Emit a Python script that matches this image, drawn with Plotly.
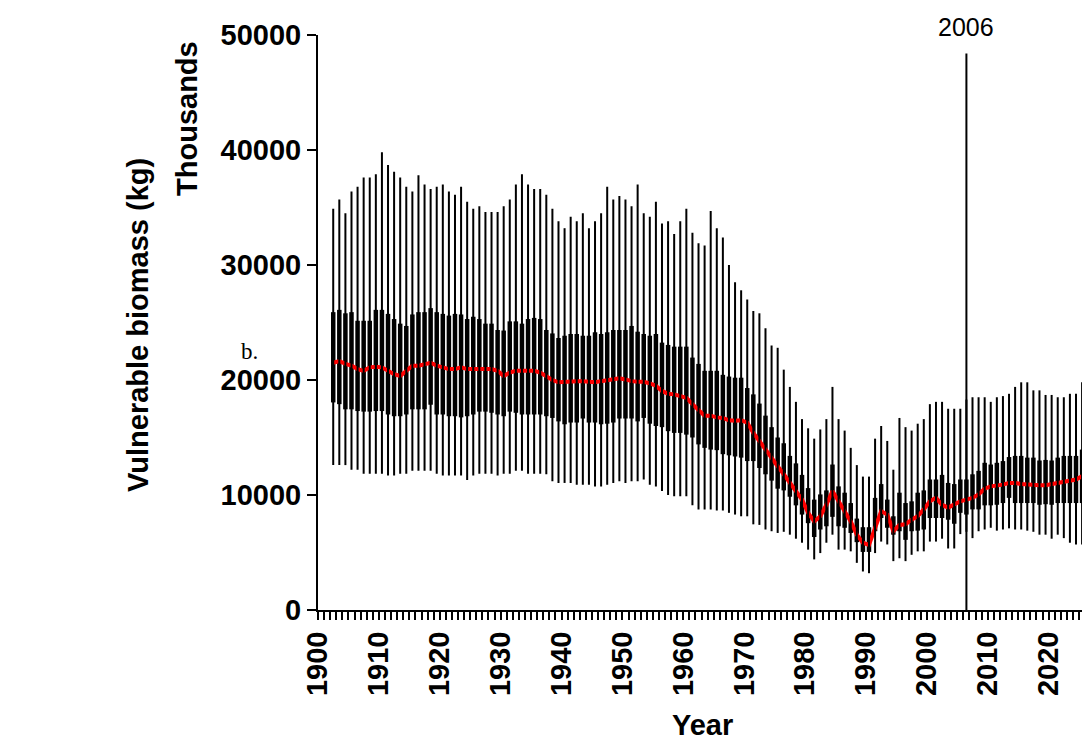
import plotly.graph_objects as go

# Yearly summaries of vulnerable biomass (thousands of kg)
years = list(range(1902, 2027))

high = [34900, 35700, 34500, 36400, 36800, 37600, 37600, 37900,
        39800, 38700, 38100, 37600, 36800, 36400, 37800, 37000, 36600, 36800,
        37000, 36400, 36100, 36800, 35500, 34900, 35100, 34600, 34600, 34600,
        35100, 35700, 37000, 37900, 37000, 36600, 36600, 36100, 34900, 33800,
        33200, 34200, 33800, 34500, 33200, 33800, 34500, 36800, 35700, 36000,
        35700, 35100, 37000, 34500, 34200, 35500, 33600, 33800, 32700, 33800,
        34900, 32800, 31900, 31700, 34700, 33200, 32400, 30000, 28500, 27800,
        27000, 26000, 25800, 24500, 23000, 22800, 20900, 19400, 18100, 16600,
        15800, 14900, 15700, 16600, 19400, 16600, 15600, 14100, 12600, 11600,
        11600, 14900, 16000, 14700, 12200, 16700, 15900, 15600, 16200, 16600,
        17900, 18100, 18100, 17500, 17500, 17500, 18300, 18500, 18500, 18500,
        18100, 18500, 18600, 18800, 19400, 19800, 19800, 19100, 19100, 18700,
        18700, 18500, 18500, 18800, 18800, 19800, 20000]

q3 = [25900, 26100, 25800, 25900, 25150, 25150, 25150, 26100,
      26100, 25750, 25300, 24900, 24700, 25700, 25900, 25900, 26250, 25900,
      25750, 25600, 25750, 25700, 25300, 25500, 25300, 24900, 24900, 24350,
      24300, 25100, 25100, 24900, 25300, 25400, 25300, 24350, 24050, 23650,
      23850, 24000, 24000, 23850, 23850, 24150, 24000, 24150, 24350, 24350,
      24350, 24700, 24200, 24000, 23850, 24000, 23250, 23050, 22900, 22900,
      22900, 21950, 21400, 20800, 20800, 20800, 20450, 20300, 20200, 20200,
      19300, 18750, 17950, 16900, 15900, 15000, 14500, 13400, 12750, 11750,
      10600, 9600, 10050, 10400, 12650, 10750, 10200, 9300, 7950, 7200,
      7200, 9750, 10950, 9600, 8150, 10200, 9300, 9450, 10200, 10400,
      11350, 11350, 11750, 11050, 10950, 11350, 11350, 11800, 12100, 12800,
      12650, 12800, 12950, 13300, 13400, 13400, 13250, 13250, 13000, 13050,
      13000, 13250, 13400, 13400, 13400, 13950, 14000]

median = [21500, 21650, 21400, 21250, 20950, 20800, 21100, 21150,
          21100, 20800, 20500, 20350, 20800, 21250, 21250, 21400, 21500, 21250,
          21100, 20950, 20950, 21100, 20950, 20950, 20950, 20950, 20950, 20800,
          20350, 20650, 20800, 20800, 20800, 20800, 20650, 20300, 20000, 19800,
          19850, 19900, 19900, 19900, 19850, 19800, 19900, 20000, 20100, 20150,
          20050, 19900, 19850, 19850, 19700, 19500, 19050, 18800, 18750, 18600,
          18450, 17900, 17450, 16900, 16900, 16750, 16700, 16500, 16450, 16500,
          16300, 15400, 14700, 13950, 13100, 12500, 11800, 11050, 10350, 9600,
          8450, 7700, 8150, 9150, 10350, 9450, 8450, 7700, 6550, 5850,
          5650, 7200, 8600, 8300, 6850, 7400, 7450, 7850, 8150, 8750,
          9450, 9750, 9150, 8900, 9150, 9450, 9600, 9750, 10050, 10550,
          10750, 10800, 10900, 11050, 11050, 10950, 10900, 10850, 10850, 10850,
          10950, 11050, 11150, 11200, 11350, 11650, 11750]

q1 = [18050, 17900, 17450, 17450, 17300, 17250, 17250, 17300,
      17300, 17000, 16850, 16850, 17000, 17450, 17450, 17450, 17850, 17000,
      17000, 16850, 16850, 16750, 16850, 17000, 17250, 17250, 17150, 17000,
      16850, 17250, 17150, 17000, 17000, 17000, 17000, 16850, 16700, 16400,
      16150, 16300, 16300, 16650, 16300, 16300, 16150, 16200, 16300, 16650,
      16650, 16650, 16400, 16700, 16200, 16000, 15900, 15550, 15400, 15400,
      15250, 15000, 14400, 14100, 13950, 13900, 13550, 13450, 13350, 13250,
      12950, 12950, 12350, 11800, 11250, 10550, 10400, 9850, 9100, 8300,
      7550, 6350, 7000, 7280, 8100, 7280, 7150, 6700, 5900, 5050,
      5050, 6850, 8000, 7150, 6550, 6850, 6100, 6850, 6900, 7000,
      8000, 8000, 8000, 7850, 7500, 8450, 8300, 8750, 8750, 9100,
      9100, 9150, 9300, 9750, 9300, 9300, 9300, 9300, 9150, 9200,
      9150, 9300, 9300, 9300, 9300, 9300, 9300]

low = [12600, 12600, 12600, 12200, 12200, 11850, 11850, 11850,
       11850, 11700, 11700, 11850, 11850, 12100, 12100, 12100, 12100, 11850,
       11700, 11700, 11700, 11700, 11300, 11700, 11850, 11850, 11850, 11700,
       11850, 11850, 12100, 12100, 11850, 11850, 11850, 11800, 11200, 11050,
       11050, 11050, 10900, 10900, 10900, 10750, 10750, 10900, 11050, 11200,
       11050, 11200, 11200, 11350, 10900, 10750, 10350, 10000, 9900, 9900,
       9900, 9100, 8750, 8750, 8750, 8650, 8650, 8450, 8300, 8150,
       8150, 7450, 7400, 7000, 6850, 6700, 6800, 6550, 6200, 5850,
       5250, 4400, 4950, 5850, 6550, 5250, 5250, 5100, 4100, 3350,
       3200, 4950, 5950, 5700, 4250, 4500, 4250, 4800, 5100, 5100,
       5950, 5950, 6200, 5350, 5350, 6600, 6800, 6250, 6850, 7000,
       7150, 6900, 7000, 7100, 7000, 7000, 6900, 6800, 6550, 6550,
       6200, 6550, 6250, 5850, 5700, 5700, 5700]

x_tick_years = list(range(1900, 2021, 10))
y_tick_values = list(range(0, 50001, 10000))
marker_year = 2006
marker_top = 48400


def vertical_segments(bottoms, tops):
    # one trace, segments separated by None
    xs, ys = [], []
    for yr, lo, hi in zip(years, bottoms, tops):
        xs += [yr, yr, None]
        ys += [lo, hi, None]
    return xs, ys


bold = dict(family="Liberation Sans, Arial", size=29, color="black", weight="bold")

fig = go.Figure()

bx, by = vertical_segments(q1, q3)
fig.add_trace(go.Scatter(x=bx, y=by, mode="lines",
                         line=dict(color="black", width=4.5), hoverinfo="skip"))

fig.add_trace(go.Scatter(x=years, y=median, mode="lines",
                         line=dict(color="#ff0000", width=4), name="median"))

wx, wy = vertical_segments(low, high)
fig.add_trace(go.Scatter(x=wx, y=wy, mode="lines",
                         line=dict(color="black", width=2), hoverinfo="skip"))

# 2006 reference line
fig.add_shape(type="line", xref="x", yref="y",
              x0=marker_year, x1=marker_year, y0=0, y1=marker_top,
              line=dict(color="black", width=2))
fig.add_annotation(x=marker_year, y=1.0139, xref="x", yref="paper",
                   xanchor="center", yanchor="middle",
                   text=str(marker_year), showarrow=False,
                   font=dict(family="Liberation Sans, Arial", size=25, color="black"))

fig.add_annotation(x=-0.2332, y=0.4957, xref="paper", yref="paper",
                   xanchor="center", yanchor="middle",
                   text="Vulnerable biomass (kg)", textangle=-90, showarrow=False,
                   font=bold)
fig.add_annotation(x=-0.1697, y=0.8557, xref="paper", yref="paper",
                   xanchor="center", yanchor="middle",
                   text="Thousands", textangle=-90, showarrow=False,
                   font=bold)
fig.add_annotation(x=-0.0881, y=0.4504, xref="paper", yref="paper",
                   xanchor="center", yanchor="middle",
                   text="b.", showarrow=False,
                   font=dict(family="Liberation Serif, Times New Roman", size=23, color="black"))
fig.add_annotation(x=0.4987, y=-0.2, xref="paper", yref="paper",
                   xanchor="center", yanchor="middle",
                   text="Year", showarrow=False, font=bold)

# category-style axis: labels and ticks sit on the year boundaries
fig.update_xaxes(
    range=[1899.5, 2026.3],
    tickmode="array", tickvals=[v - 0.5 for v in x_tick_years],
    ticktext=[str(v) for v in x_tick_years],
    tickangle=-90, tickfont=bold,
    ticks="outside", ticklen=8, tickwidth=1.5, tickcolor="black",
    minor=dict(tick0=1899.5, dtick=1, ticks="outside", ticklen=8, tickwidth=1.5, tickcolor="black"),
    showline=True, linecolor="black", linewidth=2,
    showgrid=False, zeroline=False,
)
fig.update_yaxes(
    range=[0, 50000],
    tickmode="array", tickvals=y_tick_values, tickformat="d",
    tickfont=bold,
    ticks="outside", ticklen=9, tickwidth=2, tickcolor="black",
    showline=True, linecolor="black", linewidth=2,
    showgrid=False, zeroline=False,
)

# the page body adds an 8px offset, so the figure is 8px smaller than the window
fig.update_layout(
    width=1082, height=741, autosize=False,
    margin=dict(l=310, r=0, t=27, b=139),
    paper_bgcolor="white", plot_bgcolor="white",
    showlegend=False,
)

fig.write_html("out.html")
